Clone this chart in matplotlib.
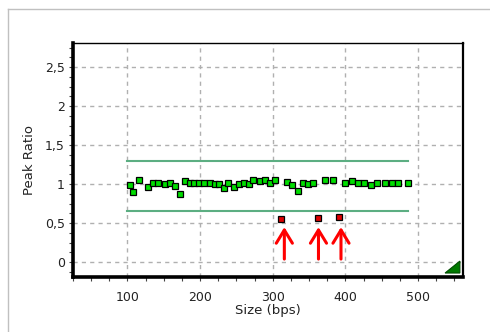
import matplotlib
matplotlib.use("Agg")
import matplotlib.pyplot as plt
from matplotlib.lines import Line2D
from matplotlib.patches import Polygon
from matplotlib.ticker import FixedLocator, MultipleLocator

# ---- data ----
green_x = [103, 108, 116, 128, 135, 142, 151, 158, 165, 172,
           179, 186, 192, 199, 206, 213, 220, 226, 233, 238,
           246, 253, 260, 267, 273, 283, 290, 296, 303, 319,
           326, 335, 342, 349, 356, 372, 383, 400, 409, 417,
           425, 435, 443, 454, 464, 472, 486]
green_y = [0.99, 0.90, 1.06, 0.97, 1.02, 1.02, 1.00, 1.02, 0.98, 0.88,
           1.04, 1.02, 1.01, 1.01, 1.02, 1.01, 1.00, 1.00, 0.95, 1.02,
           0.96, 1.00, 1.02, 1.00, 1.05, 1.04, 1.05, 1.02, 1.06, 1.03,
           0.99, 0.91, 1.01, 1.00, 1.01, 1.06, 1.06, 1.01, 1.04, 1.01,
           1.01, 0.99, 1.02, 1.01, 1.01, 1.01, 1.02]
red_x = [311, 363, 391]
red_y = [0.55, 0.57, 0.585]
threshold_x = [100, 486]
upper_limit = 1.30
lower_limit = 0.65
arrow_x = [316, 363, 394]
arrow_tail_y = 0.04
arrow_tip_y = 0.45
xtick_values = [100, 200, 300, 400, 500]
xtick_labels = ["100", "200", "300", "400", "500"]
ytick_values = [0, 0.5, 1, 1.5, 2, 2.5]
ytick_labels = ["0", "0,5", "1", "1,5", "2", "2,5"]

plt.rcParams['font.family'] = ['DejaVu Sans']

fig = plt.figure(figsize=(4.9, 3.32), dpi=100)
ax = fig.add_axes([73/490, 1-277/332, 390/490, 234/332])

# outer frame lines (top and left)
fig.add_artist(Line2D([8/490, 1], [1-9/332, 1-9/332], color='#c0c0c0', lw=1, transform=fig.transFigure))
fig.add_artist(Line2D([8/490, 8/490], [0, 1-9/332], color='#c0c0c0', lw=1, transform=fig.transFigure))

ax.set_xlim(25, 562)
ax.set_ylim(-0.19, 2.81)

ax.grid(True, which='major', color='#b0b0b0', linestyle=(0, (3, 3)), linewidth=1)
ax.set_axisbelow(True)

ax.plot(threshold_x, [upper_limit, upper_limit], color='#5cae82', lw=1.5, zorder=2)
ax.plot(threshold_x, [lower_limit, lower_limit], color='#5cae82', lw=1.5, zorder=2)

ax.plot(green_x, green_y, linestyle='none', marker='s', markersize=4.2,
        markerfacecolor='#00dd00', markeredgecolor='black', markeredgewidth=0.9, zorder=3)
ax.plot(red_x, red_y, linestyle='none', marker='s', markersize=4.2,
        markerfacecolor='#dd0000', markeredgecolor='black', markeredgewidth=0.9, zorder=3)

for x in arrow_x:
    ax.annotate('', xy=(x, arrow_tip_y), xytext=(x, arrow_tail_y),
                arrowprops=dict(arrowstyle='->,head_length=0.95,head_width=0.58',
                                color='#ff0000', lw=2.2, shrinkA=0, shrinkB=0,
                                mutation_scale=10), zorder=4)

# green corner triangle
tri = Polygon([[0.992, 0.068], [0.954, 0.017], [0.992, 0.017]], closed=True,
              transform=ax.transAxes, facecolor='#007a00', edgecolor='#004d00', lw=0.8, zorder=5)
ax.add_patch(tri)

ax.xaxis.set_major_locator(FixedLocator(xtick_values))
ax.set_xticklabels(xtick_labels)
ax.xaxis.set_minor_locator(MultipleLocator(25))
ax.yaxis.set_major_locator(FixedLocator(ytick_values))
ax.set_yticklabels(ytick_labels)
ax.yaxis.set_minor_locator(MultipleLocator(0.125))

ax.tick_params(which='both', direction='out', length=3, width=0.8, color='#444444',
               labelsize=9, labelcolor='#222222')
ax.tick_params(axis='x', pad=7)
ax.tick_params(axis='y', pad=3)

ax.spines['left'].set_linewidth(2.6)
ax.spines['bottom'].set_linewidth(2.6)
ax.spines['right'].set_linewidth(1.6)
ax.spines['top'].set_linewidth(1.0)
for s in ax.spines.values():
    s.set_color('black')

ax.set_xlabel('Size (bps)', fontsize=9.5, color='#222222', labelpad=0)
ax.set_ylabel('Peak Ratio', fontsize=9.5, color='#222222', labelpad=6)

fig.savefig('out.png', dpi=100)
